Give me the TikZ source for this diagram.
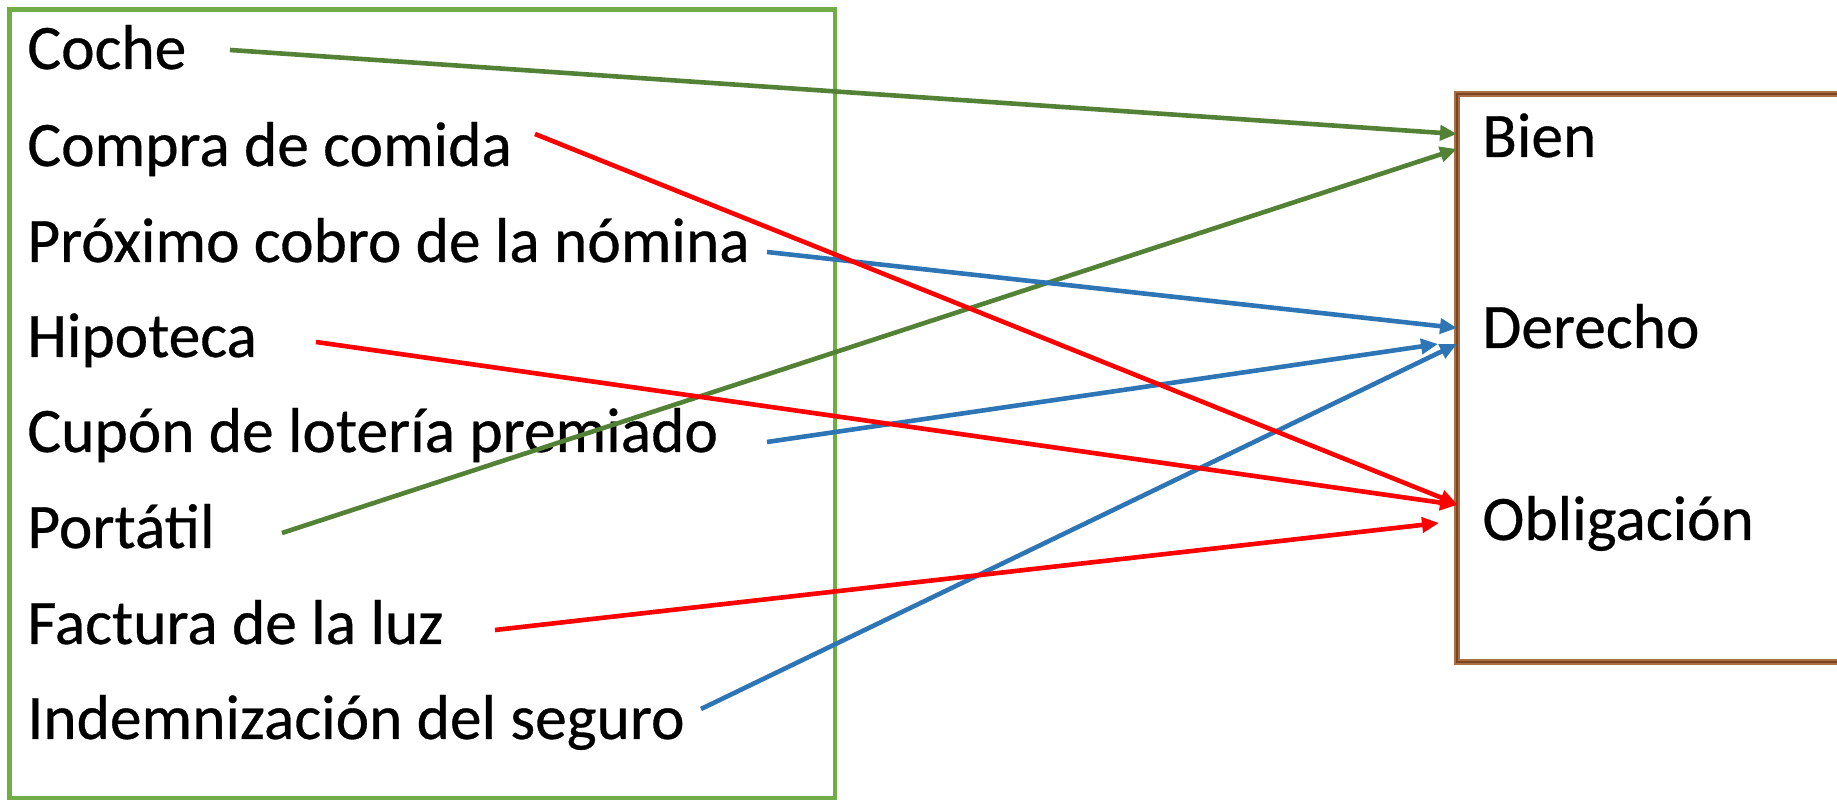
\documentclass[tikz,border=0pt]{standalone}
\usepackage{fontspec}
\setmainfont{Carlito}[FakeBold=0.5]
\usetikzlibrary{arrows.meta}
\definecolor{boxgreen}{HTML}{70AD47}
\definecolor{lgreen}{HTML}{538135}
\definecolor{lblue}{HTML}{2E75B6}
\definecolor{lred}{HTML}{FF0000}
\definecolor{boxbrown}{HTML}{A86E45}
\definecolor{darkbrown}{HTML}{7A4520}
\tikzset{
  item/.style={anchor=base west, inner sep=0pt, font=\fontsize{31.7pt}{38pt}\selectfont},
  link/.style={line width=2.3pt, -{Triangle[length=8.5pt,width=7.5pt]}},
}
\begin{document}
\begin{tikzpicture}[x=0.5pt,y=-0.5pt]
\useasboundingbox (0,0) rectangle (1837,801);
\begin{scope}
\clip (0,0) rectangle (1837,801);
% left box
\draw[boxgreen, line width=2.4pt] (9.5,9.5) rectangle (835,798);
% right box (extends past the right edge)
\draw[boxbrown, line width=3pt] (1900,94) -- (1457,94) -- (1457,662) -- (1900,662);
\draw[darkbrown, line width=1.2pt] (1900,94) -- (1457,94) -- (1457,662) -- (1900,662);
% left items
\node[item] (coche)  at (27,69)  {Coche};
\node[item] (compra) at (27,166) {Compra de comida};
\node[item] (nomina) at (27,262) {Próximo cobro de la nómina};
\node[item] (hipo)   at (27,357) {Hipoteca};
\node[item] (cupon)  at (27,452) {Cupón de lotería premiado};
\node[item] (port)   at (27,548) {Portátil};
\node[item] (fact)   at (27,644) {Factura de la luz};
\node[item] (indem)  at (27,739) {Indemnización del seguro};
% right items
\node[item] (bien) at (1482,157) {Bien};
\node[item] (der)  at (1482,348) {Derecho};
\node[item] (obl)  at (1482,540) {Obligación};
% connector endpoints
\coordinate (s-coche)  at (230,50);
\coordinate (s-compra) at (535,134);
\coordinate (s-nomina) at (767,252);
\coordinate (s-hipo)   at (316,342);
\coordinate (s-cupon)  at (767,442);
\coordinate (s-port)   at (282,533);
\coordinate (s-fact)   at (495,630);
\coordinate (s-indem)  at (701,709);
\coordinate (e-coche)  at (1457,134);
\coordinate (e-port)   at (1457,149);
\coordinate (e-nomina) at (1457,328);
\coordinate (e-cupon)  at (1438,344);
\coordinate (e-indem)  at (1457,344);
\coordinate (e-compra) at (1457,504);
\coordinate (e-hipo)   at (1457,505);
\coordinate (e-fact)   at (1439,523);
% connectors
\draw[link, lgreen] (s-coche) -- (e-coche);
\draw[link, lgreen] (s-port) -- (e-port);
\draw[link, lblue] (s-nomina) -- (e-nomina);
\draw[link, lblue] (s-cupon) -- (e-cupon);
\draw[link, lblue] (s-indem) -- (e-indem);
\draw[link, lred] (s-compra) -- (e-compra);
\draw[link, lred] (s-hipo) -- (e-hipo);
\draw[link, lred] (s-fact) -- (e-fact);
\end{scope}
\end{tikzpicture}
\end{document}
